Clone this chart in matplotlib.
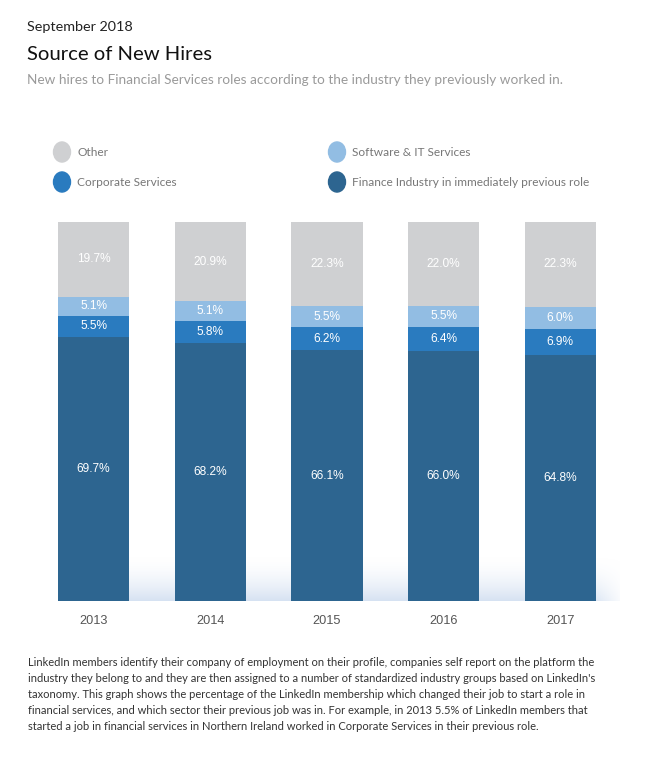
import numpy as np
import matplotlib
matplotlib.use("Agg")
import matplotlib.pyplot as plt

plt.rcParams['font.family'] = ['Lato', 'DejaVu Sans']

years = ['2013', '2014', '2015', '2016', '2017']
finance = [69.7, 68.2, 66.1, 66.0, 64.8]
corporate = [5.5, 5.8, 6.2, 6.4, 6.9]
software = [5.1, 5.1, 5.5, 5.5, 6.0]
other = [19.7, 20.9, 22.3, 22.0, 22.3]

series = [
    ('Finance Industry in immediately previous role', finance, '#2d6590'),
    ('Corporate Services', corporate, '#2a7bbf'),
    ('Software & IT Services', software, '#92bde3'),
    ('Other', other, '#cfd0d2'),
]

W, H = 650, 767
fig = plt.figure(figsize=(W / 100, H / 100), dpi=100)

def px(x, y):
    # pixel coords (from top-left) -> figure fraction
    return x / W, 1 - y / H

# header text
fig.text(*px(27, 27), 'September 2018', fontsize=10.4, color='#222222', va='center')
fig.text(*px(27, 54), 'Source of New Hires', fontsize=14.6, color='#111111', va='center')
fig.text(*px(27, 80), 'New hires to Financial Services roles according to the industry they previously worked in.',
         fontsize=9.8, color='#9a9a9a', va='center')

# chart axes
ax_l, ax_r, ax_t, ax_b = 35.2, 618.7, 222, 601
ax = fig.add_axes([ax_l / W, 1 - ax_b / H, (ax_r - ax_l) / W, (ax_b - ax_t) / H])
x = np.arange(len(years))
bottom = np.zeros(len(years))
for name, vals, col in series:
    vals = np.array(vals)
    ax.bar(x, vals, width=0.61, bottom=bottom, color=col, zorder=2)
    for xi, b, v in zip(x, bottom, vals):
        ax.text(xi, b + v / 2, f'{v:.1f}%', ha='center', va='center',
                fontsize=8.6, color='white', zorder=3, family='Liberation Sans')
    bottom += vals

# soft glow along the baseline (row 0 = baseline)
ny, nx = 60, 300
vert = np.linspace(1, 0, ny)[:, None] ** 1.8
xs = np.linspace(-0.3, 4.55, nx)
horiz = np.clip((4.55 - xs) / 0.3, 0, 1)
glow = np.zeros((ny, nx, 4))
glow[..., 0] = 0.84
glow[..., 1] = 0.89
glow[..., 2] = 0.95
glow[..., 3] = vert * horiz[None, :]
ax.imshow(glow, extent=(-0.3, 4.55, 0, 12), aspect='auto', origin='lower', zorder=1)

ax.set_xlim(-0.5, 4.5)
ax.set_ylim(0, 100)
ax.axis('off')
for xi, yr in zip(x, years):
    fig.text(*px(ax_l + (xi + 0.5) * (ax_r - ax_l) / 5, 621), yr, fontsize=9.2,
             color='#555555', ha='center', va='center', family='Liberation Sans')

# legend
legend_items = [
    ('Other', '#cfd0d2', 62, 152),
    ('Software & IT Services', '#92bde3', 337, 152),
    ('Corporate Services', '#2a7bbf', 62, 182),
    ('Finance Industry in immediately previous role', '#2d6590', 337, 182),
]
for label, col, lx, ly in legend_items:
    fig.patches.append(plt.Circle(px(lx, ly), 8.5 / W, color=col,
                                  transform=fig.transFigure, figure=fig))
    fig.text(*px(lx + 15, ly), label, fontsize=8.6, color='#777777', va='center')

# footnote
note = ("LinkedIn members identify their company of employment on their profile, companies self report on the platform the\n"
        "industry they belong to and they are then assigned to a number of standardized industry groups based on LinkedIn's\n"
        "taxonomy. This graph shows the percentage of the LinkedIn membership which changed their job to start a role in\n"
        "financial services, and which sector their previous job was in. For example, in 2013 5.5% of LinkedIn members that\n"
        "started a job in financial services in Northern Ireland worked in Corporate Services in their previous role.")
fig.text(*px(28, 657), note, fontsize=8.0, color='#333333', va='top', linespacing=1.56)

fig.savefig('out.png', dpi=100)
